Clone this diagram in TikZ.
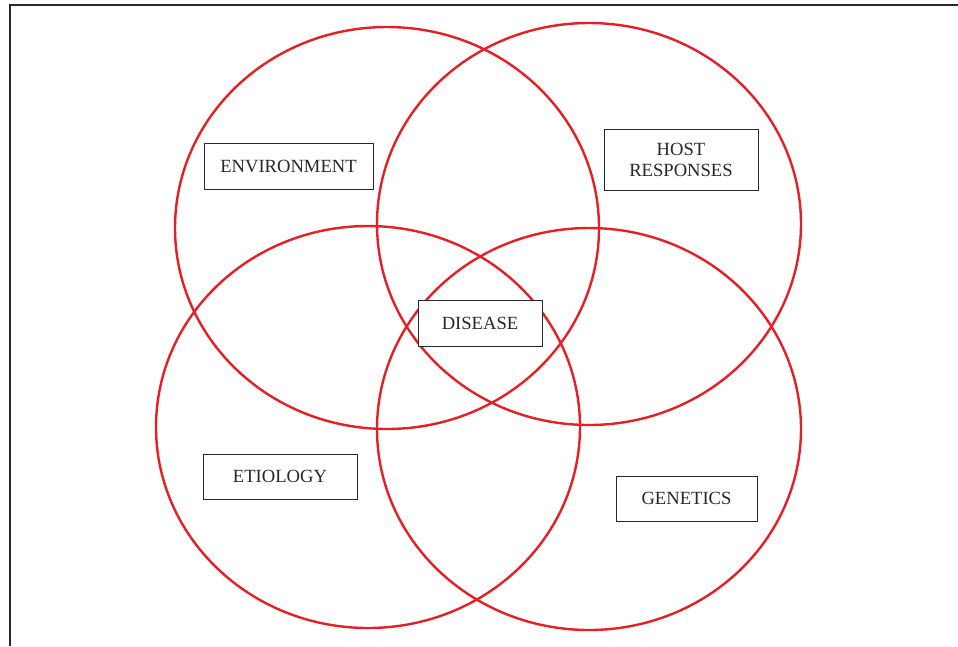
\documentclass[tikz,border=0pt]{standalone}
\usepackage{fontspec}
\setmainfont{Liberation Serif}
\usepackage{xcolor}
\usepackage{tikz}
\usetikzlibrary{positioning}
\definecolor{vennred}{RGB}{228,32,38}
\definecolor{inkgray}{RGB}{40,40,40}

\begin{document}
\begin{tikzpicture}[x=1pt, y=-1pt,
  ring/.style={draw=vennred, line width=2.4pt},
  factor/.style={draw=inkgray, line width=1pt, fill=white, text=inkgray,
                 font=\fontsize{18.6}{21}\selectfont, align=center,
                 minimum height=46pt, inner sep=2pt},
  frame/.style={draw=inkgray, line width=2pt},
]
\useasboundingbox (0,0) rectangle (958,646);

% outer frame, open on the right and bottom
\coordinate (fr-tl) at (9.5,5);
\coordinate (fr-tr) at (958,5);
\coordinate (fr-bl) at (9.5,646);
\draw[frame] (fr-tr) -- (fr-tl) -- (fr-bl);

% the four overlapping sets
\foreach \cx/\cy in {387/228, 589/224, 368/427, 589/429}{
  \draw[ring] (\cx,\cy) ellipse [x radius=212, y radius=201];
}

\node[factor, minimum width=169pt]                  (env)  at (288.5,166) {ENVIRONMENT};
\node[factor, minimum width=154pt, minimum height=61pt] (host) at (681,160) {HOST\\RESPONSES};
\node[factor, minimum width=124pt]                  (dis)  at (480,323) {DISEASE};
\node[factor, minimum width=154pt, minimum height=45pt] (etio) at (280,476.5) {ETIOLOGY};
\node[factor, minimum width=141pt, minimum height=45pt] (gen)  at (686.5,498.5) {GENETICS};

\end{tikzpicture}
\end{document}
